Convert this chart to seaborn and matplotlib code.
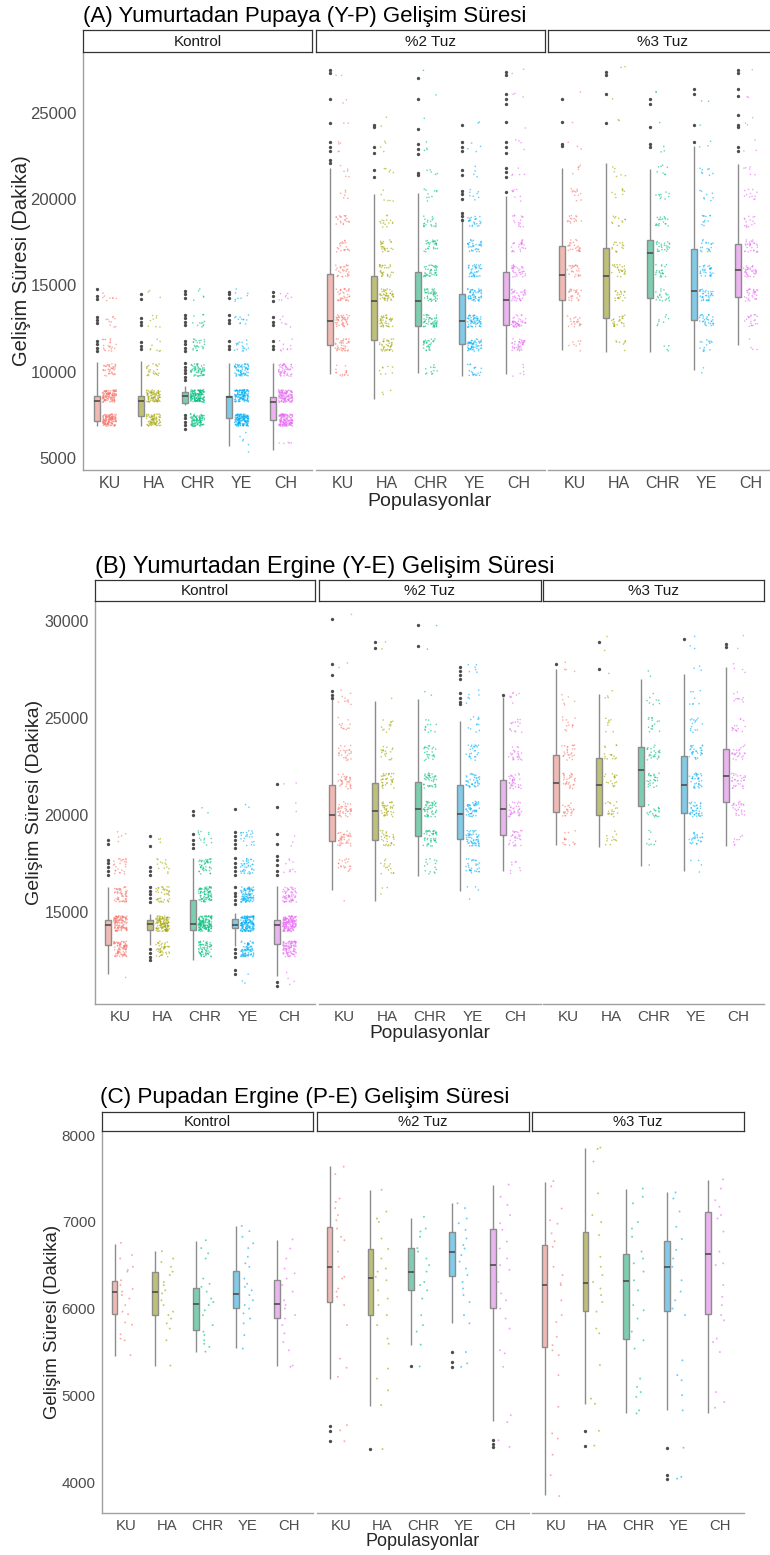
import numpy as np
import pandas as pd
import matplotlib
matplotlib.use("Agg")
import matplotlib.pyplot as plt
import seaborn as sns

POPS = ["KU", "HA", "CHR", "YE", "CH"]
TREATMENTS = ["Kontrol", "%2 Tuz", "%3 Tuz"]
Y_LABEL = "Gelişim Süresi (Dakika)"
X_LABEL = "Populasyonlar"

# ---------------- (A) Yumurtadan Pupaya ----------------
YP_TITLE = "(A) Yumurtadan Pupaya (Y-P) Gelişim Süresi"
# box summary per population: lower whisker, Q1, median, Q3, upper whisker
YP_KONTROL_BOX = [[6880, 7170, 8330, 8620, 10550], [6840, 7420, 8330, 8580, 10610],
                  [8100, 8190, 8580, 8810, 9160], [5680, 7320, 8540, 8580, 10510],
                  [5490, 7190, 8250, 8540, 10510]]
YP_TUZ2_BOX = [[9890, 11570, 12960, 15690, 21800], [8440, 11820, 14080, 15570, 20330],
               [9930, 12670, 14080, 15770, 20360], [9740, 11630, 12930, 14530, 18910],
               [9890, 12730, 14180, 15770, 20170]]
YP_TUZ3_BOX = [[11240, 14140, 15630, 17310, 21810], [11150, 13120, 15530, 17180, 22100],
               [11130, 14280, 16890, 17620, 21750], [10120, 12980, 14660, 17120, 23070],
               [11570, 14320, 15880, 17430, 22040]]
YP_KONTROL_OUT = [[11200, 11400, 11600, 11800, 12800, 13000, 13200, 14200, 14400, 14800],
                  [11300, 11500, 11700, 12700, 12900, 13100, 14200, 14500],
                  [6700, 6900, 7100, 7300, 7500, 9500, 9700, 9900, 10100, 10300, 10500,
                   11200, 11400, 11600, 11800, 12700, 12900, 13100, 13300, 14300, 14500, 14700],
                  [11300, 11500, 11800, 12800, 13000, 13300, 14300, 14500, 14600],
                  [11300, 11500, 11800, 12700, 12900, 13200, 14100, 14400, 14600]]
YP_TUZ2_OUT = [[22100, 22300, 22800, 23000, 23300, 24400, 25800, 27300, 27500],
               [21300, 21700, 22700, 23000, 24200, 24300],
               [21400, 21500, 22600, 22900, 23200, 24100, 25800, 27000],
               [18800, 19000, 19200, 20000, 20300, 20500, 21400, 21700, 22800, 23000, 23300, 24300],
               [20400, 21300, 21600, 21800, 22700, 23000, 23300, 24500, 25500, 25800, 26100, 27200, 27400]]
YP_TUZ3_OUT = [[23100, 23200, 24500, 25800], [24400, 26100, 27200, 27400],
               [23000, 23200, 24200, 25500, 25800], [23300, 24300, 26100, 26400],
               [22800, 23000, 24200, 24300, 24900, 26000, 26400, 27300, 27500]]
# observations cluster on whole days: band centres and number of points in each band
YP_LEVELS = [5600, 6200, 7200, 8600, 10100, 11550, 12950, 14450, 15850, 17300,
             18750, 20250, 21650, 23100, 24400, 25900, 27400]
YP_KONTROL_COUNTS = [[0, 0, 140, 120, 40, 20, 10, 8, 0, 0, 0, 0, 0, 0, 0, 0, 0],
                     [0, 0, 80, 90, 25, 8, 8, 3, 0, 0, 0, 0, 0, 0, 0, 0, 0],
                     [0, 0, 100, 150, 60, 25, 12, 5, 0, 0, 0, 0, 0, 0, 0, 0, 0],
                     [2, 4, 160, 130, 70, 18, 12, 8, 0, 0, 0, 0, 0, 0, 0, 0, 0],
                     [5, 0, 150, 130, 55, 10, 6, 8, 0, 0, 0, 0, 0, 0, 0, 0, 0]]
YP_TUZ2_COUNTS = [[0, 0, 0, 0, 15, 40, 45, 35, 30, 20, 20, 6, 6, 5, 2, 2, 2],
                  [0, 0, 0, 3, 8, 40, 40, 45, 30, 25, 15, 6, 5, 4, 2, 0, 0],
                  [0, 0, 0, 0, 12, 30, 50, 45, 40, 30, 20, 10, 5, 4, 1, 1, 1],
                  [0, 0, 0, 0, 20, 60, 60, 55, 40, 35, 25, 8, 4, 4, 2, 0, 0],
                  [0, 0, 0, 0, 6, 40, 45, 35, 35, 25, 15, 8, 5, 4, 1, 3, 2]]
YP_TUZ3_COUNTS = [[0, 0, 0, 0, 0, 8, 20, 25, 25, 25, 15, 12, 5, 3, 1, 1, 0],
                  [0, 0, 0, 0, 0, 8, 25, 20, 25, 15, 12, 8, 6, 0, 2, 1, 2],
                  [0, 0, 0, 0, 0, 4, 8, 20, 20, 25, 20, 10, 8, 3, 1, 2, 0],
                  [0, 0, 0, 0, 2, 15, 30, 35, 30, 20, 12, 8, 8, 3, 1, 2, 0],
                  [0, 0, 0, 0, 0, 4, 20, 30, 35, 30, 15, 12, 6, 3, 3, 2, 1]]

# ---------------- (B) Yumurtadan Ergine ----------------
YE_TITLE = "(B) Yumurtadan Ergine (Y-E) Gelişim Süresi"
YE_KONTROL_BOX = [[11780, 13320, 14350, 14610, 16290], [13320, 14090, 14400, 14610, 14870],
                  [12550, 14090, 14400, 15640, 17780], [13230, 14180, 14350, 14660, 14950],
                  [11690, 13360, 14320, 14610, 16320]]
YE_TUZ2_BOX = [[16120, 18670, 20010, 21560, 26020], [15550, 18730, 20180, 21640, 25850],
               [16870, 18900, 20300, 21700, 25970], [16070, 18760, 20060, 21520, 24820],
               [17100, 18980, 20300, 21820, 26100]]
YE_TUZ3_BOX = [[18430, 20150, 21640, 23100, 27500], [18350, 19980, 21540, 22930, 26240],
               [17350, 20480, 22330, 23480, 27010], [17100, 20100, 21540, 23020, 27270],
               [18380, 20670, 22020, 23410, 27620]]
YE_KONTROL_OUT = [[16900, 17100, 17300, 17500, 17700, 18500, 18700],
                  [12500, 12700, 12900, 13100, 15500, 15700, 15900, 16100, 16300,
                   16900, 17100, 17300, 18400, 18900],
                  [18300, 18500, 18700, 19000, 20000, 20200],
                  [11800, 12000, 12700, 12900, 13100, 15400, 15600, 15800, 16000, 16300,
                   16900, 17100, 17300, 17500, 17800, 18300, 18500, 18700, 18900, 19100, 20300],
                  [11200, 11400, 16900, 17100, 17400, 17700, 17900, 18500, 19000, 20400, 21600]]
YE_TUZ2_OUT = [[26000, 26200, 26400, 27200, 27800, 30100], [28600, 28900], [28700, 29800],
               [25700, 25800, 26000, 26300, 27000, 27200, 27400, 27600], [26200]]
YE_TUZ3_OUT = [[27750], [27500, 28900], [], [29050], [28650, 28800]]
YE_LEVELS = [11500, 13100, 14400, 15900, 17350, 18800, 20300, 21750, 23200,
             24650, 26050, 27500, 28850, 30100]
YE_KONTROL_COUNTS = [[1, 90, 120, 55, 25, 5, 0, 0, 0, 0, 0, 0, 0, 0],
                     [0, 45, 130, 40, 14, 3, 0, 0, 0, 0, 0, 0, 0, 0],
                     [0, 70, 150, 85, 45, 14, 2, 0, 0, 0, 0, 0, 0, 0],
                     [3, 85, 170, 100, 40, 22, 2, 0, 0, 0, 0, 0, 0, 0],
                     [4, 100, 160, 65, 10, 3, 2, 2, 0, 0, 0, 0, 0, 0]]
YE_TUZ2_COUNTS = [[0, 0, 0, 1, 20, 40, 40, 35, 25, 12, 10, 2, 0, 1],
                  [0, 0, 0, 3, 15, 30, 40, 35, 18, 12, 1, 0, 2, 0],
                  [0, 0, 0, 0, 15, 45, 50, 40, 25, 12, 2, 0, 1, 1],
                  [0, 0, 0, 4, 30, 55, 50, 40, 25, 12, 6, 6, 0, 0],
                  [0, 0, 0, 0, 8, 30, 35, 35, 25, 15, 8, 0, 0, 0]]
YE_TUZ3_COUNTS = [[0, 0, 0, 0, 0, 15, 25, 30, 25, 12, 6, 4, 0, 0],
                  [0, 0, 0, 0, 0, 12, 20, 18, 15, 8, 4, 1, 2, 0],
                  [0, 0, 0, 0, 1, 8, 20, 25, 25, 15, 8, 2, 0, 0],
                  [0, 0, 0, 0, 4, 25, 40, 35, 30, 15, 8, 3, 3, 0],
                  [0, 0, 0, 0, 0, 8, 25, 30, 25, 15, 10, 4, 2, 0]]

# ---------------- (C) Pupadan Ergine ----------------
PE_TITLE = "(C) Pupadan Ergine (P-E) Gelişim Süresi"
PE_KONTROL_BOX = [[5460, 5940, 6190, 6320, 6750], [5350, 5930, 6200, 6420, 6670],
                  [5510, 5760, 6060, 6240, 6780], [5550, 6010, 6170, 6440, 6950],
                  [5340, 5900, 6060, 6330, 6790]]
PE_TUZ2_BOX = [[5190, 6080, 6480, 6940, 7640], [4890, 5930, 6360, 6690, 7370],
               [5590, 6220, 6420, 6700, 7050], [5840, 6380, 6650, 6890, 7220],
               [4710, 6010, 6500, 6920, 7430]]
PE_TUZ3_BOX = [[3860, 5560, 6280, 6740, 7460], [4910, 5980, 6300, 6880, 7850],
               [4810, 5650, 6320, 6630, 7380], [4840, 5980, 6480, 6780, 7340],
               [4810, 5940, 6630, 7110, 7480]]
PE_KONTROL_OUT = [[], [], [], [], []]
PE_TUZ2_OUT = [[4480, 4600, 4660], [4390], [5340], [5330, 5385, 5500], [4415, 4450, 4490]]
PE_TUZ3_OUT = [[], [4430, 4600], [], [4050, 4090, 4405], []]
PE_KONTROL_POINTS = [
    [6760, 6620, 6580, 6485, 6450, 6430, 6330, 6275, 6230, 6200, 6160, 6120, 6045, 5970,
     5940, 5845, 5820, 5710, 5660, 5640, 5470],
    [6665, 6580, 6540, 6485, 6430, 6390, 6310, 6275, 6215, 6180, 6100, 6045, 5970, 5930,
     5890, 5835, 5775, 5640, 5350],
    [6790, 6700, 6640, 6580, 6350, 6290, 6255, 6200, 6120, 6080, 6045, 5985, 5930, 5815,
     5740, 5700, 5640, 5600, 5565, 5510],
    [6955, 6895, 6830, 6755, 6700, 6600, 6525, 6485, 6350, 6290, 6255, 6215, 6160, 6100,
     6045, 6005, 5950, 5890, 5835, 5700, 5545],
    [6800, 6695, 6580, 6465, 6410, 6350, 6275, 6200, 6100, 6045, 6005, 5930, 5890, 5815,
     5720, 5620, 5525, 5350, 5335]]
PE_TUZ2_POINTS = [
    [7636, 7550, 7270, 7230, 7160, 7080, 7020, 6925, 6830, 6790, 6660, 6485, 6370, 6350,
     6235, 6200, 6140, 6045, 5815, 5430, 5325, 5220, 4665, 4605, 4480],
    [7370, 7120, 7040, 7000, 6810, 6690, 6580, 6465, 6430, 6370, 6330, 6215, 6120, 6045,
     5930, 5815, 5660, 5600, 5315, 5200, 5065, 4895, 4390],
    [7060, 6925, 6890, 6830, 6700, 6660, 6580, 6505, 6430, 6310, 6275, 6215, 6120, 5930,
     5815, 5740, 5590, 5340],
    [7215, 7160, 7040, 6985, 6910, 6810, 6735, 6695, 6620, 6545, 6465, 6390, 6310, 6235,
     6160, 6080, 5930, 5835, 5505, 5375, 5335],
    [7430, 7290, 7195, 7080, 6985, 6910, 6775, 6695, 6580, 6505, 6450, 6310, 6180, 6100,
     6005, 5890, 5775, 5525, 5490, 5335, 4780, 4700, 4490, 4415]]
PE_TUZ3_POINTS = [
    [7470, 7410, 7155, 7020, 6980, 6870, 6780, 6715, 6485, 6390, 6295, 6275, 6100, 5930,
     5850, 5680, 5585, 5525, 5470, 5240, 4875, 4570, 4510, 4325, 4090, 3850],
    [7855, 7840, 7695, 7330, 7080, 7000, 6850, 6600, 6485, 6390, 6310, 6235, 6160, 6080,
     5970, 5775, 5720, 5355, 4970, 4910, 4600, 4430],
    [7385, 7290, 7215, 7000, 6925, 6830, 6660, 6580, 6525, 6430, 6330, 6215, 6045, 5985,
     5890, 5740, 5640, 5545, 5200, 5105, 5045, 4990, 4835, 4800],
    [7340, 7270, 7120, 6945, 6805, 6680, 6580, 6485, 6330, 6200, 6100, 6005, 5930, 5410,
     5240, 5180, 5010, 4835, 4405, 4070, 4050],
    [7490, 7385, 7250, 7175, 7080, 7040, 6890, 6660, 6525, 6505, 6275, 6140, 6045, 5930,
     5870, 5660, 5620, 5505, 5045, 4930, 4865]]

# ggplot default hue colours and the lighter box fills
COLORS = ["#F8766D", "#A3A500", "#00BF7D", "#00B0F6", "#E76BF3"]
FILLS = ["#FBB0AA", "#CBCC6B", "#70DBB5", "#70D3F9", "#F2AAF8"]

W, H = 770, 1555
BOX_SHIFT = -0.29

sns.set_style("white")
plt.rcParams["font.family"] = ["Liberation Sans", "DejaVu Sans"]

rng = np.random.default_rng(3)
np.random.seed(3)


def band_points(levels, counts, spread):
    vals = np.repeat(np.array(levels, dtype=float), counts)
    # vertical display jitter, as geom_jitter(height=...) in the original
    return vals + rng.uniform(-spread, spread, len(vals))


fig = plt.figure(figsize=(W / 100, H / 100), dpi=100)


def px_axes(x0, x1, y0, y1):
    return fig.add_axes([x0 / W, 1 - y1 / H, (x1 - x0) / W, (y1 - y0) / H])


def draw_panel(lay, boxes, outs, points):
    top, bottom = lay["plot"]
    for j, (fx0, fx1) in enumerate(lay["facets"]):
        ax = px_axes(fx0, fx1, top, bottom)
        box_df = pd.DataFrame([(POPS[i], i + BOX_SHIFT, v)
                               for i in range(5) for v in boxes[j][i]],
                              columns=["pop", "x", "value"])
        pt_df = pd.DataFrame([(POPS[i], float(i), v)
                              for i in range(5) for v in points[j][i]],
                             columns=["pop", "x", "value"])
        out_df = pd.DataFrame([(POPS[i], i + BOX_SHIFT, v)
                               for i in range(5) for v in outs[j][i]],
                              columns=["pop", "x", "value"])

        sns.boxplot(data=box_df, x="x", y="value", hue="pop", hue_order=POPS,
                    palette=dict(zip(POPS, FILLS)), native_scale=True, orient="x",
                    width=0.14, dodge=False, whis=(0, 100), showfliers=False,
                    showcaps=False, linecolor="#8C8C8C", linewidth=1.0,
                    medianprops=dict(color="#4D4D4D", linewidth=1.2),
                    legend=False, ax=ax)
        sns.stripplot(data=pt_df, x="x", y="value", hue="pop", hue_order=POPS,
                      palette=dict(zip(POPS, COLORS)), native_scale=True, orient="x",
                      jitter=0.16, size=lay["pt"], alpha=0.6, linewidth=0,
                      dodge=False, legend=False, ax=ax)
        if len(out_df):
            sns.stripplot(data=out_df, x="x", y="value", color="#4D4D4D",
                          native_scale=True, orient="x", jitter=False, size=2.4,
                          linewidth=0, legend=False, ax=ax)

        ax.set_xlim(-0.6, 4.6)
        ax.set_ylim(*lay["ylim"])
        ax.set_xticks(range(5))
        ax.set_xticklabels(POPS)
        ax.set_yticks(lay["yticks"])
        ax.set_xlabel("")
        ax.set_ylabel("")
        ax.tick_params(axis="x", labelsize=lay["xtick"], colors="#8C8C8C",
                       labelcolor="#4D4D4D", length=3, width=0.8, pad=1.5)
        ax.tick_params(axis="y", labelsize=lay["ytick"], colors="#8C8C8C",
                       labelcolor="#4D4D4D", length=3, width=0.8, pad=1.5)
        for side in ["top", "right"]:
            ax.spines[side].set_visible(False)
        ax.spines["bottom"].set_color("#A0A0A0")
        ax.spines["bottom"].set_linewidth(1.0)
        if j == 0:
            ax.spines["left"].set_color("#A0A0A0")
            ax.spines["left"].set_linewidth(1.0)
        else:
            ax.spines["left"].set_visible(False)
            ax.tick_params(axis="y", left=False, labelleft=False)
        ax.grid(False)

        sax = px_axes(fx0, fx1, lay["strip"], top)
        sax.set_xticks([])
        sax.set_yticks([])
        for s in sax.spines.values():
            s.set_color("#333333")
            s.set_linewidth(0.9)
        sax.text(0.5, 0.45, TREATMENTS[j], ha="center", va="center",
                 fontsize=lay["strip_fs"], color="#1A1A1A", transform=sax.transAxes)

    fig.text(lay["title_x"] / W, 1 - lay["title_y"] / H, lay["title"],
             fontsize=lay["title_fs"], va="baseline", ha="left", color="black")
    fig.text(lay["ylab_x"] / W, 1 - (top + bottom) / 2 / H, Y_LABEL, rotation=90,
             ha="center", va="center", fontsize=lay["ylab_fs"])
    x_mid = (lay["facets"][0][0] + lay["facets"][2][1]) / 2
    fig.text(x_mid / W, 1 - lay["xlab_y"] / H, X_LABEL, ha="center", va="center",
             fontsize=lay["xlab_fs"])


yp_points = [[band_points(YP_LEVELS, c, 360) for c in cs]
             for cs in [YP_KONTROL_COUNTS, YP_TUZ2_COUNTS, YP_TUZ3_COUNTS]]
ye_points = [[band_points(YE_LEVELS, c, 400) for c in cs]
             for cs in [YE_KONTROL_COUNTS, YE_TUZ2_COUNTS, YE_TUZ3_COUNTS]]
pe_points = [PE_KONTROL_POINTS, PE_TUZ2_POINTS, PE_TUZ3_POINTS]

draw_panel(dict(title=YP_TITLE, facets=[(83, 312), (316, 545), (548, 777)],
                plot=(52, 470), strip=30, ylim=(4304, 28536),
                yticks=[5000, 10000, 15000, 20000, 25000],
                title_x=83, title_y=22, title_fs=16, ylab_x=22, ylab_fs=14.5,
                xlab_y=501, xlab_fs=14, xtick=11.5, ytick=12, strip_fs=11, pt=1.15),
           [YP_KONTROL_BOX, YP_TUZ2_BOX, YP_TUZ3_BOX],
           [YP_KONTROL_OUT, YP_TUZ2_OUT, YP_TUZ3_OUT], yp_points)

draw_panel(dict(title=YE_TITLE, facets=[(95, 315), (319, 541), (543, 764)],
                plot=(600.5, 1004), strip=580, ylim=(10258, 31046),
                yticks=[15000, 20000, 25000, 30000],
                title_x=95, title_y=573, title_fs=17, ylab_x=35, ylab_fs=14,
                xlab_y=1033, xlab_fs=13.8, xtick=11, ytick=11.4, strip_fs=11, pt=1.15),
           [YE_KONTROL_BOX, YE_TUZ2_BOX, YE_TUZ3_BOX],
           [YE_KONTROL_OUT, YE_TUZ2_OUT, YE_TUZ3_OUT], ye_points)

draw_panel(dict(title=PE_TITLE, facets=[(102, 313), (317, 529), (532, 744)],
                plot=(1131, 1513), strip=1112, ylim=(3655, 8046),
                yticks=[4000, 5000, 6000, 7000, 8000],
                title_x=100, title_y=1103, title_fs=16.2, ylab_x=53, ylab_fs=13.4,
                xlab_y=1541, xlab_fs=13, xtick=10.7, ytick=11, strip_fs=10.6, pt=1.4),
           [PE_KONTROL_BOX, PE_TUZ2_BOX, PE_TUZ3_BOX],
           [PE_KONTROL_OUT, PE_TUZ2_OUT, PE_TUZ3_OUT], pe_points)

fig.savefig("out.png", dpi=100, facecolor="white")
